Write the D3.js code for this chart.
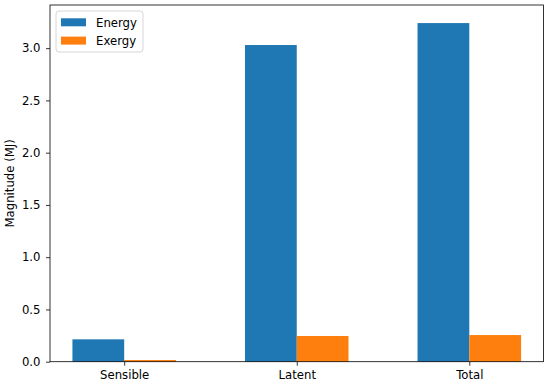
<!DOCTYPE html>
<html>
<head>
<meta charset="utf-8">
<script src="https://d3js.org/d3.v7.min.js"></script>
<style>
  body { margin: 0; background: #fff; }
  text { font-family: "DejaVu Sans", sans-serif; }
</style>
</head>
<body>
<div id="chart"></div>
<script>
// data
var categories = ["Sensible", "Latent", "Total"];
var energy = [0.214, 3.03, 3.24];
var exergy = [0.016, 0.246, 0.255];
var seriesNames = ["Energy", "Exergy"];
var colors = ["#1f77b4", "#ff7f0e"];
var yTicks = [0.0, 0.5, 1.0, 1.5, 2.0, 2.5, 3.0];

var W = 550, H = 385;
var pLeft = 50, pRight = 543.5, pTop = 5, pBottom = 361.7;
var barW = 0.3;
var fs = 11.7;

var svg = d3.select("#chart").append("svg").attr("width", W).attr("height", H);

var x = d3.scaleLinear().domain([-0.43, 2.43]).range([pLeft, pRight]);
var y = d3.scaleLinear().domain([0, 3.413]).range([pBottom, pTop]);

// bars
var series = [energy, exergy];
series.forEach(function(vals, s) {
  svg.append("g").selectAll("rect").data(vals).enter().append("rect")
    .attr("x", function(d, i) { return x(i - barW + s * barW); })
    .attr("width", x(barW) - x(0))
    .attr("y", function(d) { return y(d); })
    .attr("height", function(d) { return y(0) - y(d); })
    .attr("fill", colors[s]);
});

// axes
var xAxis = d3.axisBottom(x).tickValues([0, 1, 2]).tickFormat(function(d) { return categories[d]; })
  .tickSize(4).tickSizeOuter(0).tickPadding(5.5);
var yAxis = d3.axisLeft(y).tickValues(yTicks).tickFormat(d3.format(".1f"))
  .tickSize(4).tickSizeOuter(0).tickPadding(5.5);

var gx = svg.append("g").attr("transform", "translate(0," + pBottom + ")").call(xAxis);
var gy = svg.append("g").attr("transform", "translate(" + pLeft + ",0)").call(yAxis);
[gx, gy].forEach(function(g) {
  g.select(".domain").remove();
  g.selectAll("text").attr("font-size", fs).attr("fill", "#000").attr("font-family", "DejaVu Sans");
  g.selectAll("line").attr("stroke", "#000").attr("stroke-width", 0.8);
});

// frame
svg.append("rect").attr("x", pLeft).attr("y", pTop)
  .attr("width", pRight - pLeft).attr("height", pBottom - pTop)
  .attr("fill", "none").attr("stroke", "#000").attr("stroke-width", 0.8);

// y label
svg.append("text")
  .attr("transform", "translate(14," + ((pTop + pBottom) / 2) + ") rotate(-90)")
  .attr("text-anchor", "middle").attr("font-size", fs)
  .text("Magnitude (MJ)");

// legend
var lg = svg.append("g").attr("transform", "translate(56,11)");
lg.append("rect").attr("width", 87).attr("height", 41).attr("rx", 3)
  .attr("fill", "#fff").attr("fill-opacity", 0.8).attr("stroke", "#ccc").attr("stroke-width", 0.8);
seriesNames.forEach(function(n, i) {
  lg.append("rect").attr("x", 5).attr("y", 7.3 + i * 18.3).attr("width", 25).attr("height", 8).attr("fill", colors[i]);
  lg.append("text").attr("x", 40).attr("y", 16 + i * 18.3).attr("font-size", fs).text(n);
});
</script>
</body>
</html>
